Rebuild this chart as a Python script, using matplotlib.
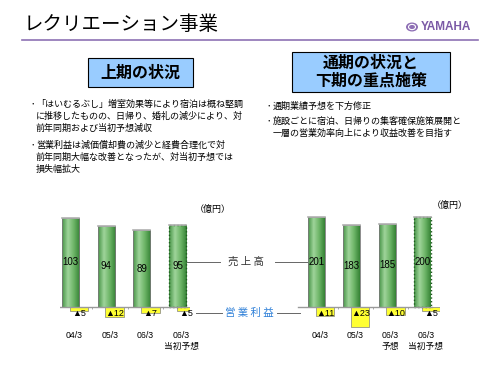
import numpy as np
import matplotlib
matplotlib.use('Agg')
import matplotlib.pyplot as plt
from matplotlib.colors import LinearSegmentedColormap
from matplotlib.patches import Rectangle, Circle

plt.rcParams['font.family'] = ['Noto Sans CJK JP', 'DejaVu Sans']

# データ
labels_l = ['04/3', '05/3', '06/3', '06/3\n当初予想']
sales_l = [103, 94, 89, 95]
profit_l = [-5, -12, -7, -5]

labels_r = ['04/3', '05/3', '06/3\n予想', '06/3\n当初予想']
sales_r = [201, 183, 185, 200]
profit_r = [-11, -23, -10, -5]

# 箇条書き（先頭が True の行に「・」）
bullets_l = [(True, '「はいむるぶし」増室効果等により宿泊は概ね堅調'),
             (False, 'に推移したものの、日帰り、婚礼の減少により、対'),
             (False, '前年同期および当初予想減収'),
             (True, '営業利益は減価償却費の減少と経費合理化で対'),
             (False, '前年同期大幅な改善となったが、対当初予想では'),
             (False, '損失幅拡大')]
bullets_r = [(True, '通期業績予想を下方修正'),
             (True, '施設ごとに宿泊、日帰りの集客確保施策展開と'),
             (False, '一層の営業効率向上により収益改善を目指す')]

W, H = 500, 375
fig = plt.figure(figsize=(5, 3.75), dpi=100)
fig.patch.set_facecolor('white')


def fx(px):
    return px / W


def fy(py):
    return 1 - py / H


# タイトル
fig.text(fx(24), fy(25), 'レクリエーション事業', fontsize=14, va='center', ha='left')
fig.add_artist(plt.Line2D([fx(22), fx(478)], [fy(40), fy(40)], color='#8e72b4', lw=1.2))
fig.add_artist(Circle((fx(412), fy(27)), 6 / W, transform=fig.transFigure,
                      fc='#8e6fb5', ec='none'))
fig.add_artist(Circle((fx(412), fy(27)), 3.5 / W, transform=fig.transFigure,
                      fc='none', ec='white', lw=0.8))
fig.text(fx(421), fy(27), 'YAMAHA', fontsize=8.5, fontweight='bold', color='#7b5aa6',
         family='Liberation Sans', va='center', ha='left')

# 見出しボックス
fig.add_artist(Rectangle((fx(88), fy(87)), 105 / W, 29 / H, transform=fig.transFigure,
                         fc='#99ccff', ec='black', lw=0.8))
fig.text(fx(140), fy(73), '上期の状況', fontsize=11.5, fontweight='bold', ha='center', va='center')
fig.add_artist(Rectangle((fx(292), fy(92)), 158 / W, 40 / H, transform=fig.transFigure,
                         fc='#99ccff', ec='black', lw=0.8))
fig.text(fx(371), fy(72), '通期の状況と\n下期の重点施策', fontsize=11.5, fontweight='bold',
         ha='center', va='center', linespacing=1.15)

# 箇条書き
for (b, t), y in zip(bullets_l, [104, 116, 128, 145, 157, 169]):
    if b:
        fig.text(fx(33), fy(y), '･', fontsize=6.5, ha='center', va='center')
    fig.text(fx(36), fy(y), t, fontsize=6.5, ha='left', va='center')
for (b, t), y in zip(bullets_r, [106, 121, 133]):
    if b:
        fig.text(fx(269), fy(y), '･', fontsize=6.5, ha='center', va='center')
    fig.text(fx(273), fy(y), t, fontsize=6.5, ha='left', va='center')

cmap = LinearSegmentedColormap.from_list('g', ['#479447', '#9fd49a', '#6cb466', '#358235'])
grad = np.linspace(0, 1, 64).reshape(1, -1)


def draw_chart(rect, xlim, s_ylim, sales, profit, labels, base):
    ax = fig.add_axes(rect)
    ax2 = ax.twinx()
    ax.set_zorder(ax2.get_zorder() + 1)
    ax.patch.set_visible(False)
    x = np.arange(len(sales))
    # 営業利益（黄色ボックス）
    boxes = ax2.bar(x + 0.14, profit, width=0.52, color='#ffff33', edgecolor='#808080', lw=0.5)
    for b, v in zip(boxes, profit):
        ax2.text(b.get_x() + b.get_width() / 2, -7.5, '▲%d' % abs(v), fontsize=6.5,
                 family='Liberation Sans', ha='center', va='center')
    # 売上高（グラデーション棒）
    bars = ax.bar(x - 0.1, sales, width=0.48, color='none', edgecolor='#7a7a7a', lw=0.6, zorder=3)
    for i, (b, v) in enumerate(zip(bars, sales)):
        x0, w = b.get_x(), b.get_width()
        im = ax.imshow(grad, extent=[x0, x0 + w, 0, v], cmap=cmap, aspect='auto', zorder=2)
        im.set_clip_path(b)
        ax.plot([x0, x0 + w], [v, v], color='#b0b0b0', lw=1.2, zorder=4)
        if i == len(sales) - 1:
            b.set_edgecolor('#1f5a1f')
            b.set_linestyle(':')
            b.set_linewidth(1.0)
        ax.text(x0 + w / 2, v / 2, str(v), fontsize=7, family='Liberation Sans',
                ha='center', va='center', zorder=5)
    # 基準線
    ax.plot(base, [0, 0], color='#9a9a9a', lw=1.0, zorder=4)
    ax.vlines(np.arange(len(sales)) + 0.5, s_ylim[0] * 0.04, 0, color='#9a9a9a', lw=0.6)
    tr = ax.get_xaxis_transform()
    for xi, lab in zip(x, labels):
        ax.text(xi, 0.125, lab, transform=tr, fontsize=6.3, ha='center', va='top',
                family=['Liberation Sans', 'Noto Sans CJK JP'], linespacing=1.3)
    ax.set_xlim(xlim)
    ax.set_ylim(s_ylim)
    ax2.set_xlim(xlim)
    ax2.set_ylim(-50.6, 125.9)
    for a in (ax, ax2):
        a.axis('off')
    return ax


draw_chart([fx(60), fy(350), 130 / W, 150 / H], (-0.39, 3.25), (-49.7, 123.7),
           sales_l, profit_l, labels_l, [-0.39, 3.17])
draw_chart([fx(295), fy(350), 145 / W, 150 / H], (-0.71, 3.4), (-95.6, 237.8),
           sales_r, profit_r, labels_r, [-0.62, 3.17])

# 凡例ラベル
fig.text(fx(246), fy(262), '売 上 高', fontsize=7.5, color='#333333', ha='center', va='center')
fig.add_artist(plt.Line2D([fx(187), fx(220)], [fy(262), fy(262)], color='#666666', lw=0.7))
fig.add_artist(plt.Line2D([fx(275), fx(307)], [fy(262), fy(262)], color='#666666', lw=0.7))
fig.text(fx(249), fy(313), '営 業 利 益', fontsize=7.5, color='#2f80d8', ha='center', va='center')
fig.add_artist(plt.Line2D([fx(196), fx(222)], [fy(313), fy(313)], color='#666666', lw=0.7))
fig.add_artist(plt.Line2D([fx(277), fx(300)], [fy(313), fy(313)], color='#666666', lw=0.7))
fig.text(fx(195), fy(209), '（億円）', fontsize=6.5, ha='left', va='center')
fig.text(fx(432), fy(205), '（億円）', fontsize=6.5, ha='left', va='center')

fig.savefig('out.png', dpi=100)
